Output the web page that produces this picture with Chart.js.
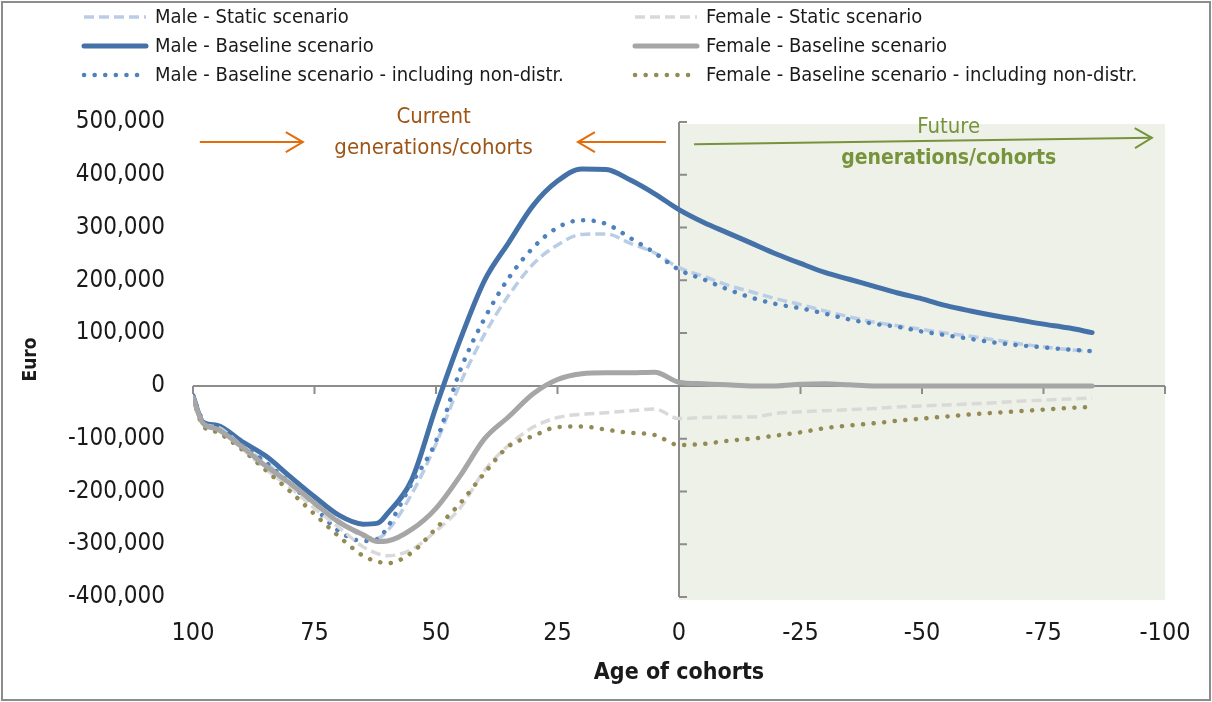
<!DOCTYPE html>
<html>
<head>
<meta charset="utf-8">
<script src="https://cdn.jsdelivr.net/npm/chart.js@4/dist/chart.umd.min.js"></script>
<style>
  html, body { margin: 0; padding: 0; background: #fff; }
  #wrap { width: 1212px; height: 702px; position: relative; }
</style>
</head>
<body>
<div id="wrap"><canvas id="grafico" width="1212" height="702"></canvas></div>
<script>
// idade das coortes (eixo x, invertido)
const ages = [100, 98, 95, 90, 85, 80, 75, 70, 65, 62, 60, 55, 50, 45, 40, 35, 30, 25, 20, 15, 10, 5, 0,
  -5, -10, -15, -20, -25, -30, -35, -40, -45, -50, -55, -60, -65, -70, -75, -80, -85];

const maleStatic = [-20000, -70000, -78000, -113000, -145000, -185000, -222000, -255000, -285000, -288000, -275000, -205000, -110000, 5000, 98000, 172000, 231000, 267000, 287000, 288000, 270000, 252000, 224000,
  208000, 191000, 178000, 165000, 154000, 142000, 131000, 121000, 114000, 107000, 100000, 94000, 87000, 80000, 74000, 69000, 65000];
const maleBaseline = [-19000, -68000, -75000, -105000, -133000, -172000, -210000, -245000, -262000, -260000, -242000, -178000, -40000, 88000, 200000, 272000, 342000, 388000, 411000, 410000, 390000, 364000, 334000,
  310000, 290000, 270000, 250000, 232000, 215000, 202000, 189000, 176000, 165000, 152000, 142000, 133000, 125000, 117000, 110000, 101000];
const maleNonDistr = [-18000, -65000, -84000, -112000, -145000, -185000, -230000, -275000, -294000, -290000, -268000, -185000, -105000, 30000, 128000, 205000, 262000, 300000, 314000, 307000, 280000, 252000, 220000,
  202000, 183000, 167000, 155000, 147000, 137000, 126000, 118000, 112000, 103000, 96000, 89000, 82000, 77000, 73000, 69000, 66000];
const femaleStatic = [-22000, -70000, -82000, -118000, -158000, -193000, -232000, -268000, -305000, -318000, -322000, -310000, -275000, -231000, -160000, -112000, -78000, -60000, -54000, -51000, -47000, -44000, -62000,
  -60000, -59000, -59000, -52000, -49000, -47000, -45000, -43000, -40000, -38000, -36000, -34000, -32000, -29000, -27000, -25000, -23000];
const femaleBaseline = [-22000, -70000, -82000, -115000, -152000, -185000, -222000, -258000, -282000, -295000, -294000, -272000, -232000, -170000, -100000, -58000, -15000, 12000, 23000, 25000, 25000, 26000, 7000,
  4000, 2000, 0, 0, 3000, 4000, 2000, 0, 0, 0, 0, 0, 0, 0, 0, 0, 0];
const femaleNonDistr = [-25000, -75000, -88000, -120000, -160000, -200000, -243000, -285000, -322000, -333000, -336000, -316000, -270000, -222000, -165000, -114000, -95000, -78000, -77000, -83000, -89000, -93000, -112000,
  -110000, -104000, -100000, -94000, -88000, -80000, -75000, -71000, -66000, -62000, -58000, -54000, -51000, -48000, -45000, -42000, -40000];

const seriesNames = [
  "Male - Static scenario",
  "Male - Baseline scenario",
  "Male - Baseline scenario - including non-distr.",
  "Female - Static scenario",
  "Female - Baseline scenario",
  "Female - Baseline scenario - including non-distr."
];

const xTicks = [100, 75, 50, 25, 0, -25, -50, -75, -100];
const yTicks = [500000, 400000, 300000, 200000, 100000, 0, -100000, -200000, -300000, -400000];

const FONT = "'Liberation Sans Narrow', 'Arial Narrow', 'DejaVu Sans Condensed', sans-serif";
Chart.defaults.font.family = FONT;
Chart.defaults.color = "#1a1a1a";

function pontos(valores) {
  return ages.map((a, i) => ({ x: a, y: valores[i] }));
}

const estilos = [
  { cor: "#B9CDE5", largura: 3.5, traco: [10, 5], cap: "butt" },
  { cor: "#4472A8", largura: 5, traco: [], cap: "round" },
  { cor: "#4F81BD", largura: 4.5, traco: [0.1, 10.5], cap: "round" },
  { cor: "#D9D9D9", largura: 3.5, traco: [10, 5], cap: "butt" },
  { cor: "#A6A6A6", largura: 5, traco: [], cap: "round" },
  { cor: "#948A54", largura: 4.5, traco: [0.1, 10.5], cap: "round" }
];

const valores = [maleStatic, maleBaseline, maleNonDistr, femaleStatic, femaleBaseline, femaleNonDistr];
// ordem de desenho: feminino por baixo, masculino por cima
const ordem = [5, 6, 4, 3, 1, 2];

const datasets = valores.map((v, i) => ({
  label: seriesNames[i],
  data: pontos(v),
  borderColor: estilos[i].cor,
  borderWidth: estilos[i].largura,
  borderDash: estilos[i].traco,
  borderCapStyle: estilos[i].cap,
  borderJoinStyle: "round",
  pointRadius: 0,
  cubicInterpolationMode: "monotone",
  fill: false,
  order: ordem[i]
}));

// anotacoes (coordenadas em valores dos eixos)
const anotacoes = {
  current: { texto: ["Current", "generations/cohorts"], x: 50.5, y: [508000, 450000], cor: "#9C5517" },
  future: { texto: ["Future", "generations/cohorts"], x: -55.5, y: [490000, 430000], cor: "#77933C" }
};
const setas = [
  { de: [98.6, 462000], ate: [77.4, 462000], cor: "#E46C0A" },
  { de: [2.7, 462000], ate: [20.8, 462000], cor: "#E46C0A" },
  { de: [-3.1, 458000], ate: [-97.3, 470000], cor: "#77933C" }
];

function desenharSeta(ctx, x1, y1, x2, y2, cor) {
  const ang = Math.atan2(y2 - y1, x2 - x1);
  ctx.save();
  ctx.strokeStyle = cor;
  ctx.lineWidth = 2;
  ctx.beginPath();
  ctx.moveTo(x1, y1);
  ctx.lineTo(x2, y2);
  ctx.stroke();
  ctx.beginPath();
  ctx.moveTo(x2 - 17 * Math.cos(ang) + 10 * Math.sin(ang), y2 - 17 * Math.sin(ang) - 10 * Math.cos(ang));
  ctx.lineTo(x2, y2);
  ctx.lineTo(x2 - 17 * Math.cos(ang) - 10 * Math.sin(ang), y2 - 17 * Math.sin(ang) + 10 * Math.cos(ang));
  ctx.stroke();
  ctx.restore();
}

const fundoFuturo = {
  id: "fundoFuturo",
  beforeDatasetsDraw(chart) {
    const { ctx, chartArea, scales } = chart;
    const x0 = scales.x.getPixelForValue(0);
    ctx.save();
    ctx.fillStyle = "#EEF1E8";
    ctx.fillRect(x0, chartArea.top + 2, chartArea.right - x0, chartArea.bottom - chartArea.top + 1);

    // eixos cruzando no zero
    const y0 = scales.y.getPixelForValue(0);
    ctx.strokeStyle = "#8C8C8C";
    ctx.lineWidth = 2;
    ctx.beginPath();
    ctx.moveTo(chartArea.left, y0);
    ctx.lineTo(chartArea.right, y0);
    xTicks.forEach(t => {
      if (t === 0) return;
      const px = scales.x.getPixelForValue(t);
      ctx.moveTo(px, y0);
      ctx.lineTo(px, y0 + 8);
    });
    ctx.moveTo(x0, scales.y.getPixelForValue(yTicks[0]));
    ctx.lineTo(x0, scales.y.getPixelForValue(yTicks[yTicks.length - 1]));
    yTicks.forEach(t => {
      const py = scales.y.getPixelForValue(t);
      ctx.moveTo(x0, py);
      ctx.lineTo(x0 + 8, py);
    });
    ctx.stroke();
    ctx.restore();
  },
  afterDraw(chart) {
    const { ctx, scales } = chart;
    ctx.save();
    // setas
    setas.forEach(s => {
      desenharSeta(ctx,
        scales.x.getPixelForValue(s.de[0]), scales.y.getPixelForValue(s.de[1]),
        scales.x.getPixelForValue(s.ate[0]), scales.y.getPixelForValue(s.ate[1]), s.cor);
    });
    // textos
    ctx.textAlign = "center";
    ctx.textBaseline = "middle";
    const c = anotacoes.current;
    ctx.fillStyle = c.cor;
    ctx.font = "22px " + FONT;
    c.texto.forEach((t, i) => ctx.fillText(t, scales.x.getPixelForValue(c.x), scales.y.getPixelForValue(c.y[i])));
    const f = anotacoes.future;
    ctx.fillStyle = f.cor;
    ctx.font = "22px " + FONT;
    ctx.fillText(f.texto[0], scales.x.getPixelForValue(f.x), scales.y.getPixelForValue(f.y[0]));
    ctx.font = "bold 21px " + FONT;
    ctx.fillText(f.texto[1], scales.x.getPixelForValue(f.x), scales.y.getPixelForValue(f.y[1]));

    // legenda em duas colunas
    const colX = [84, 635];
    const linhaY = [17, 46, 75];
    ctx.textAlign = "left";
    ctx.font = "20px " + FONT;
    chart.data.datasets.forEach((ds, i) => {
      const col = i < 3 ? 0 : 1;
      const y = linhaY[i % 3];
      const x = colX[col];
      ctx.save();
      ctx.strokeStyle = ds.borderColor;
      ctx.lineWidth = ds.borderWidth;
      ctx.setLineDash(ds.borderDash);
      ctx.lineCap = ds.borderCapStyle;
      ctx.beginPath();
      ctx.moveTo(x, y);
      ctx.lineTo(x + 62, y);
      ctx.stroke();
      ctx.restore();
      ctx.fillStyle = "#1a1a1a";
      ctx.fillText(ds.label, x + 71, y + 1);
    });

    // moldura
    ctx.strokeStyle = "#8C8C8C";
    ctx.lineWidth = 2;
    ctx.strokeRect(2, 2, chart.width - 4, chart.height - 4);
    ctx.restore();
  }
};

const ctx = document.getElementById("grafico").getContext("2d");
const grafico = new Chart(ctx, {
  type: "line",
  data: { datasets: datasets },
  options: {
    responsive: false,
    animation: false,
    layout: { padding: { top: 122, right: 47, left: 0, bottom: 0 } },
    plugins: { legend: { display: false }, tooltip: { enabled: false } },
    scales: {
      x: {
        type: "linear",
        reverse: true,
        min: -100,
        max: 100,
        afterFit: s => { s.height = 105; },
        afterBuildTicks: s => { s.ticks = xTicks.map(v => ({ value: v })); },
        ticks: { font: { size: 25 }, padding: 21, maxRotation: 0 },
        grid: { display: false, drawTicks: false },
        border: { display: false },
        title: { display: true, text: "Age of cohorts", font: { size: 23, weight: "bold" }, padding: { top: 0, bottom: 15 } }
      },
      y: {
        min: -400000,
        max: 500000,
        afterFit: s => { s.width = 193; },
        afterBuildTicks: s => { s.ticks = yTicks.map(v => ({ value: v })); },
        ticks: {
          font: { size: 24 },
          padding: 28,
          callback: v => v.toLocaleString("en-US")
        },
        grid: { display: false, drawTicks: false },
        border: { display: false },
        title: { display: true, text: "Euro", font: { size: 19, weight: "bold" }, padding: { top: 20, bottom: 0 } }
      }
    }
  },
  plugins: [fundoFuturo]
});
</script>
</body>
</html>
